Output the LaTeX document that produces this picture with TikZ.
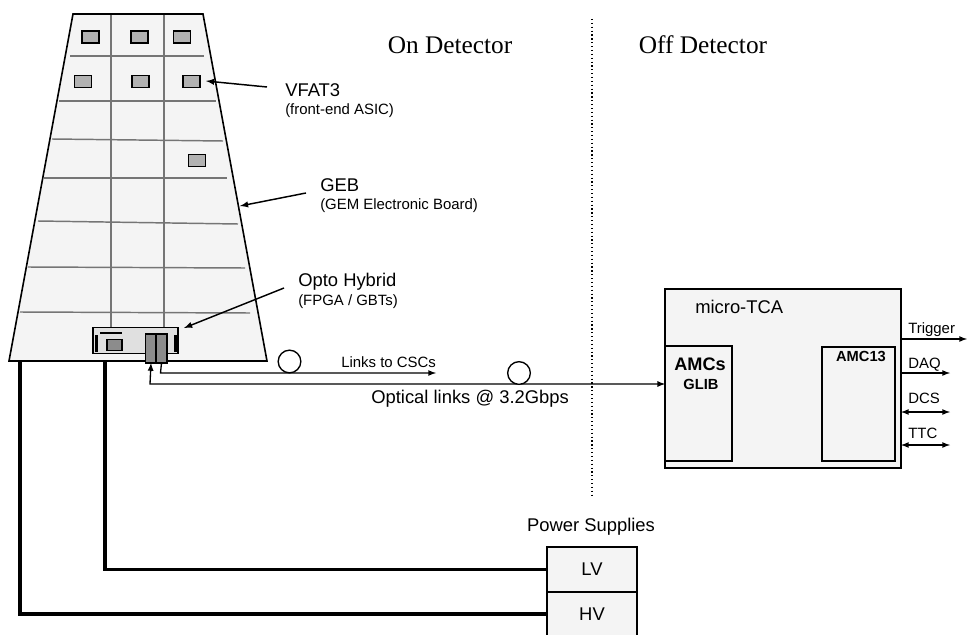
\documentclass[tikz,border=0pt]{standalone}
\usepackage{fontspec}
\setmainfont{Liberation Serif}
\setsansfont{Liberation Sans}
\usetikzlibrary{shapes}

\definecolor{panel}{HTML}{F4F4F4}
\definecolor{grid}{HTML}{757575}
\definecolor{chip}{HTML}{B2B2B2}
\definecolor{hybrid}{HTML}{E0E0E0}
\definecolor{plug}{HTML}{8C8C8C}

\tikzset{
  box/.style={draw,line width=1.2pt,fill=panel,inner sep=0pt,outer sep=0pt},
  chipbox/.style={draw,line width=1.1pt,fill=chip,inner sep=0pt,outer sep=0pt,minimum width=13pt,minimum height=9pt},
  label/.style={font=\sffamily\fontsize{13.8}{16}\selectfont,anchor=base west,inner sep=0pt},
  sublabel/.style={font=\sffamily\fontsize{11.2}{13}\selectfont,anchor=base west,inner sep=0pt},
  boldlabel/.style={font=\sffamily\bfseries\fontsize{11}{13}\selectfont,anchor=base,inner sep=0pt},
  title/.style={font=\rmfamily\fontsize{19}{22}\selectfont,inner sep=0pt},
  coil/.style={draw,circle,line width=1pt,fill=white,minimum size=17pt,inner sep=0pt},
  pointer/.style={line width=1.1pt,-latex},
  fibre/.style={line width=1pt,-latex},
  power/.style={line width=2.3pt},
}

\begin{document}
\begin{tikzpicture}[x=0.75pt,y=-0.75pt]
        \useasboundingbox (0,0) rectangle (967,635);
        % chamber
        \draw[line width=1.2pt,fill=panel] (73,14) -- (203,14) -- (267,361) -- (9,361) -- cycle;
        \foreach \xa/\ya/\xb/\yb in {70/56/204/56, 59/101/216/101, 52/139/223/141, 44/178/227/178, 38/221/238/224, 28/267/245/268, 20/312/250/313}
          \draw[grid,line width=1.1pt] (\xa,\ya) -- (\xb,\yb);
        \foreach \xa in {111,164}
          \draw[grid,line width=1.1pt] (\xa,15) -- (\xa,328);
        % vfat chips
        \node[chipbox] (vfata) at (90.5,37) {};
        \node[chipbox] (vfatb) at (139.5,37) {};
        \node[chipbox] (vfatc) at (182,37) {};
        \node[chipbox] (vfatd) at (83,81.5) {};
        \node[chipbox] (vfate) at (140.5,81.5) {};
        \node[chipbox] (vfatf) at (191.5,81.5) {};
        \node[chipbox] (vfatg) at (197,160.5) {};
        % opto hybrid
        \node[box,fill=hybrid,minimum width=64pt,minimum height=19.5pt] (opto) at (135.5,340.5) {};
        \draw[line width=1.3pt] (100,333) -- (122,333);
        \node[chipbox,fill=plug,minimum width=11pt,minimum height=8.6pt] (fpga) at (114.5,345) {};
        \fill (95,335) rectangle (98,352);
        \fill (173.5,335) rectangle (176.5,352);
        \node[box,fill=plug,minimum width=8pt,minimum height=21.8pt] (plugl) at (151,348.5) {};
        \node[box,fill=plug,minimum width=8pt,minimum height=21.8pt] (plugr) at (161.5,348.5) {};
        % labels
        \node[title] (ondet) at (450,45) {On Detector};
        \node[title] (offdet) at (703,45) {Off Detector};
        \draw[dotted,line width=0.9pt] (592,19) -- (592,496);
        \node[label] (vfatlabel) at (285,96) {VFAT3};
        \node[sublabel] (vfatsub) at (285,114) {(front-end ASIC)};
        \node[label] (geblabel) at (320,191) {GEB};
        \node[sublabel] (gebsub) at (320,209) {(GEM Electronic Board)};
        \node[label] (optolabel) at (298,286) {Opto Hybrid};
        \node[sublabel] (optosub) at (298,305) {(FPGA / GBTs)};
        \coordinate (vfatfrom) at (267,87);
        \coordinate (vfatto) at (206,81);
        \coordinate (gebfrom) at (306,193);
        \coordinate (gebto) at (240,206);
        \coordinate (optofrom) at (284,288);
        \coordinate (optoto) at (184,328);
        \draw[pointer] (vfatfrom) -- (vfatto);
        \draw[pointer] (gebfrom) -- (gebto);
        \draw[pointer] (optofrom) -- (optoto);
        % micro-TCA crate
        \node[box,minimum width=177pt,minimum height=134pt] (tca) at (783,378.5) {};
        \node[label] (tcalabel) at (695,313) {micro-TCA};
        \node[box,minimum width=50pt,minimum height=86pt] (amc) at (698.5,403.5) {};
        \node[boldlabel,font=\sffamily\bfseries\fontsize{13.6}{16}\selectfont] (amclabel) at (700,370) {AMCs};
        \node[boldlabel] (gliblabel) at (701,389) {GLIB};
        \node[box,minimum width=55pt,minimum height=85.5pt] (amcth) at (858.5,404) {};
        \node[boldlabel] (amcthlabel) at (861,361) {AMC13};
        % links
        \coordinate (trigout) at (967,339);
        \coordinate (daqout) at (950,373);
        \coordinate (dcsout) at (950,412);
        \coordinate (ttcout) at (950,445);
        \draw[fibre] (tca.east |- trigout) -- (trigout);
        \draw[fibre] (tca.east |- daqout) -- (daqout);
        \draw[fibre,latex-latex] (tca.east |- dcsout) -- (dcsout);
        \draw[fibre,latex-latex] (tca.east |- ttcout) -- (ttcout);
        \node[sublabel] (triglabel) at (908,333) {Trigger};
        \node[sublabel] (daqlabel) at (908,368) {DAQ};
        \node[sublabel] (dcslabel) at (908,403) {DCS};
        \node[sublabel] (ttclabel) at (908,438) {TTC};
        \coordinate (cscout) at (436,373);
        \coordinate (cscturn) at (160.5,373);
        \coordinate (optturn) at (150,384);
        \draw[fibre] (plugr.south) -- (cscturn) -- (cscout);
        \draw[fibre,latex-latex] (plugl.south) -- (optturn) -- (amc.west |- optturn);
        \node[coil] (coila) at (289.5,361.5) {};
        \node[coil] (coilb) at (519,373) {};
        \node[sublabel] (csclabel) at (341,367) {Links to CSCs};
        \node[label] (optlabel) at (371,403) {Optical links @ 3.2Gbps};
        % power supplies
        \node[label,anchor=base] (pslabel) at (591,531) {Power Supplies};
        \node[box,minimum width=67.5pt,minimum height=33.75pt,font=\sffamily\fontsize{13.8}{16}\selectfont] (lv) at (592,569.5) {LV};
        \node[box,minimum width=67.5pt,minimum height=33pt,font=\sffamily\fontsize{13.8}{16}\selectfont] (hv) at (592,614) {HV};
        \coordinate (lvstart) at (105,361);
        \coordinate (hvstart) at (20,361);
        \draw[power] (lvstart) |- (lv.west);
        \draw[power] (hvstart) |- (hv.west);
\end{tikzpicture}
\end{document}
